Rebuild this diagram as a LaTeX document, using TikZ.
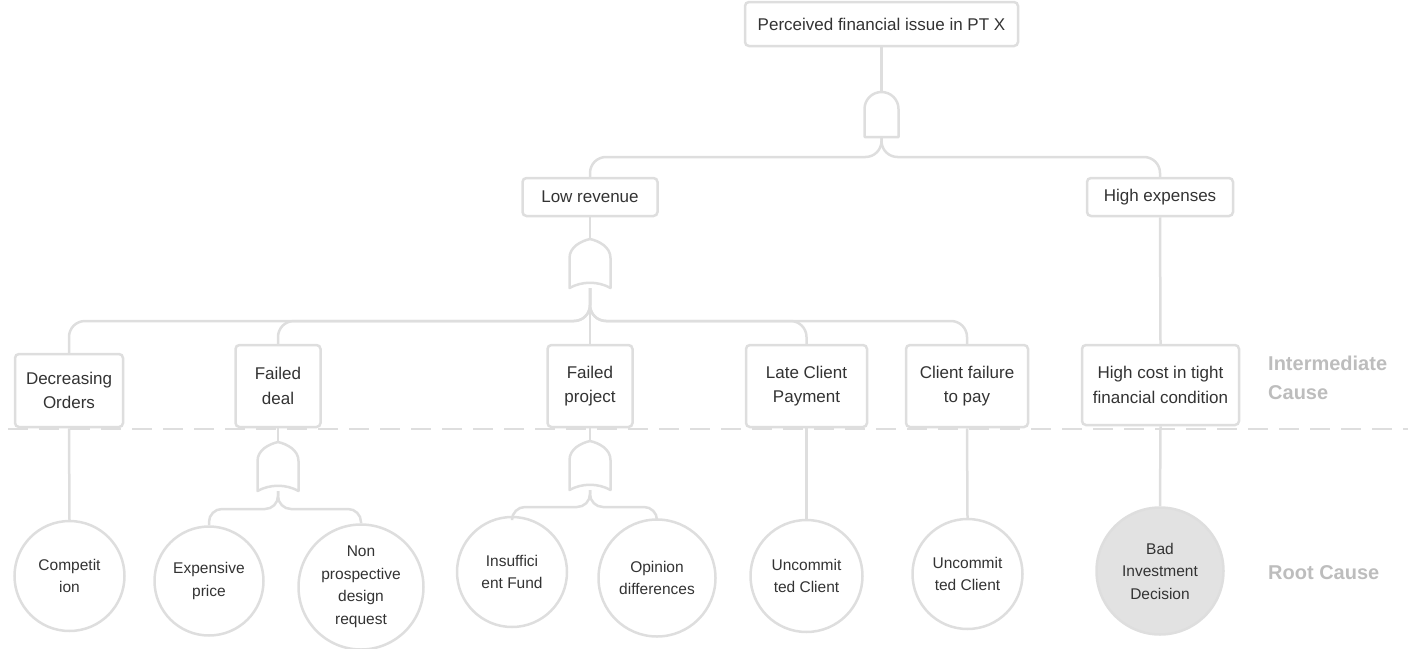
\documentclass[tikz,border=0pt]{standalone}
\usepackage{fontspec}
\setmainfont{Liberation Sans}
\definecolor{lc}{HTML}{DEDEDE}
\definecolor{tc}{HTML}{333333}
\definecolor{lg}{HTML}{BDBDBD}
\definecolor{bf}{HTML}{E2E2E2}
\begin{document}
\begin{tikzpicture}[x=1pt,y=-1pt,
  box/.style={draw=lc, line width=2.5pt, rounded corners=4pt, fill=white, text=tc,
    font=\fontsize{17}{24.5}\selectfont, align=center, inner sep=0pt},
  cnode/.style={circle, draw=lc, line width=2.5pt, fill=white, text=tc,
    font=\fontsize{15.5}{22.5}\selectfont, align=center, inner sep=0pt},
  conn/.style={draw=lc, line width=2.5pt},
  br/.style={conn, rounded corners=16pt},
  brs/.style={conn, rounded corners=13pt},
  gate/.style={draw=lc, line width=2.5pt, fill=white, line join=round},
  lab/.style={text=lg, font=\fontsize{20}{29}\selectfont\bfseries, align=left, anchor=west, inner sep=0pt},
  sep/.style={draw=lc, line width=2.5pt, dash pattern=on 20pt off 11pt},
  andg/.pic={\draw[gate] (-17,45) -- (-17,17) .. controls (-17,7.6) and (-9.4,0) .. (0,0)
     .. controls (9.4,0) and (17,7.6) .. (17,17) -- (17,45) -- cycle;},
  org/.pic={\draw[gate] (-20.5,49) -- (-20.5,19) .. controls (-20.5,8) and (-9,2) .. (0,0)
     .. controls (9,2) and (20.5,8) .. (20.5,19) -- (20.5,49)
     .. controls (8,42) and (-8,42) .. (-20.5,49) -- cycle;}]
\useasboundingbox (0,0) rectangle (1408,648);

% separator
\coordinate (sepL) at (8,429);
\coordinate (sepR) at (1408,429);
\draw[sep] (sepL) -- (sepR);

% gate coordinates
\coordinate (g1t) at (881.5,92);  \coordinate (g1b) at (881.5,137);
\coordinate (g2t) at (590,239);   \coordinate (g2b) at (590,288);
\coordinate (g3t) at (278,442);   \coordinate (g3b) at (278,491);
\coordinate (g4t) at (590,441);   \coordinate (g4b) at (590,490);

% boxes
\node[box, minimum width=273pt, minimum height=44pt] (top) at (881.5,24) {Perceived financial issue in PT X};
\node[box, minimum width=135pt, minimum height=38pt] (low) at (590,197) {Low revenue};
\node[box, minimum width=146pt, minimum height=38pt] (high) at (1160,197) {High expenses};
\node[box, minimum width=108pt, minimum height=73pt] (dec) at (69,390.5) {Decreasing\\Orders};
\node[box, minimum width=85pt, minimum height=82pt] (fdeal) at (278,386) {Failed\\deal};
\node[box, minimum width=85pt, minimum height=82pt] (fproj) at (590,386) {Failed\\project};
\node[box, minimum width=121pt, minimum height=82pt] (late) at (806.5,386) {Late Client\\Payment};
\node[box, minimum width=122pt, minimum height=82pt] (cfail) at (967,386) {Client failure\\to pay};
\node[box, minimum width=157pt, minimum height=80pt] (hcost) at (1160.5,385) {High cost in tight\\financial condition};

% circles
\node[cnode, minimum size=110pt] (comp) at (69.5,576) {Competit\\ion};
\node[cnode, minimum size=109pt] (exp) at (209,581) {Expensive\\price};
\node[cnode, minimum size=125pt] (nonp) at (361,587) {Non\\prospective\\design\\request};
\node[cnode, minimum size=110pt] (insf) at (512,572) {Insuffici\\ent Fund};
\node[cnode, minimum size=117pt] (opin) at (657,578) {Opinion\\differences};
\node[cnode, minimum size=112pt] (unc1) at (806.5,576) {Uncommit\\ted Client};
\node[cnode, minimum size=110pt] (unc2) at (967.5,574) {Uncommit\\ted Client};
\node[cnode, minimum size=127pt, fill=bf] (bad) at (1160,571) {Bad\\Investment\\Decision};

% labels
\node[lab] (lint) at (1268,378) {Intermediate\\Cause};
\node[lab] (lroot) at (1268,573) {Root Cause};

% connectors top level
\draw[conn] (top.south) -- (g1t);
\draw[br] (g1b) -- (881.5,157) -- (low.north |- 0,157) -- (low.north);
\draw[br] (g1b) -- (881.5,157) -- (high.north |- 0,157) -- (high.north);

% low revenue
\draw[conn] (low.south) -- (g2t);
\draw[conn] (g2b) -- (fproj.north);
\draw[br] (g2b) -- (590,321) -- (dec.north |- 0,321) -- (dec.north);
\draw[br] (g2b) -- (590,321) -- (fdeal.north |- 0,321) -- (fdeal.north);
\draw[br] (g2b) -- (590,321) -- (late.north |- 0,321) -- (late.north);
\draw[br] (g2b) -- (590,321) -- (cfail.north |- 0,321) -- (cfail.north);

% high expenses
\draw[conn] (high.south) -- (hcost.north);

% lower level
\draw[conn] (dec.south) -- (comp.north);
\draw[conn] (fdeal.south) -- (g3t);
\draw[brs] (g3b) -- (278,509) -- (exp.north |- 0,509) -- (exp.north);
\draw[brs] (g3b) -- (278,509) -- (nonp.north |- 0,509) -- (nonp.north);
\draw[conn] (fproj.south) -- (g4t);
\draw[brs] (g4b) -- (590,507) -- (insf.north |- 0,507) -- (insf.north);
\draw[brs] (g4b) -- (590,507) -- (opin.north |- 0,507) -- (opin.north);
\draw[conn] (late.south) -- (unc1.north);
\draw[conn] (cfail.south) -- (unc2.north);
\draw[conn] (hcost.south) -- (bad.north);

% gates
\pic at (g1t) {andg};
\pic at (g2t) {org};
\pic at (g3t) {org};
\pic at (g4t) {org};
\end{tikzpicture}
\end{document}
